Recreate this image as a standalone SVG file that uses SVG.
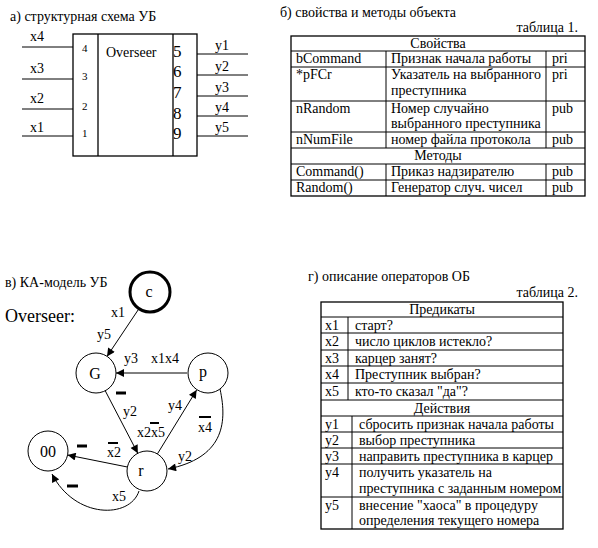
<svg xmlns="http://www.w3.org/2000/svg" width="598" height="548" viewBox="0 0 598 548" font-family="'Liberation Serif', Tinos, 'Times New Roman', 'DejaVu Serif', serif">
<style>
text{font-size:14px;fill:#000}
.ln{stroke:#000;stroke-width:1;fill:none}
.bx{stroke:#000;stroke-width:1.3;fill:none}
.c{text-anchor:middle}
.big{font-size:17px}
.pin{font-size:11px}
.nl{font-size:16px;text-anchor:middle}
.node{fill:#fff;stroke:#000;stroke-width:1}
.bar{stroke:#000;stroke-width:3}
.ob{stroke:#000;stroke-width:2}
.arr{stroke:#000;stroke-width:1;fill:none;marker-end:url(#ah)}
</style>
<defs>
<marker id="ah" viewBox="0 0 10 10" refX="10" refY="5" markerWidth="10" markerHeight="8" markerUnits="userSpaceOnUse" orient="auto">
<path d="M0,0 L10,5 L0,10 z" fill="#000"/>
</marker>
</defs>
<rect width="598" height="548" fill="#fff"/>

<!-- а) -->
<g id="block-a">
<text x="10" y="21">а) структурная схема УБ</text>
<rect x="73" y="34" width="124" height="122" class="bx"/>
<line x1="98" y1="34" x2="98" y2="156" class="bx"/>
<line x1="173" y1="34" x2="173" y2="156" class="bx"/>
<line x1="22" y1="47" x2="73" y2="47" class="ln"/>
<line x1="22" y1="79" x2="73" y2="79" class="ln"/>
<line x1="22" y1="109" x2="73" y2="109" class="ln"/>
<line x1="22" y1="136" x2="73" y2="136" class="ln"/>
<text x="30" y="41">x4</text>
<text x="30" y="73">x3</text>
<text x="30" y="103">x2</text>
<text x="30" y="132">x1</text>
<text x="82" y="52" class="pin">4</text>
<text x="82" y="80" class="pin">3</text>
<text x="82" y="110" class="pin">2</text>
<text x="82" y="137" class="pin">1</text>
<text x="106" y="57">Overseer</text>
<text x="173" y="57" class="big">5</text>
<text x="173" y="77" class="big">6</text>
<text x="173" y="98" class="big">7</text>
<text x="173" y="119" class="big">8</text>
<text x="173" y="139" class="big">9</text>
<line x1="197" y1="54" x2="248" y2="54" class="ln"/>
<line x1="197" y1="75" x2="248" y2="75" class="ln"/>
<line x1="197" y1="96" x2="248" y2="96" class="ln"/>
<line x1="197" y1="116" x2="248" y2="116" class="ln"/>
<line x1="197" y1="136" x2="248" y2="136" class="ln"/>
<text x="215" y="50">y1</text>
<text x="215" y="71">y2</text>
<text x="215" y="92">y3</text>
<text x="215" y="112">y4</text>
<text x="215" y="132">y5</text>
</g>

<!-- б) -->
<g id="table-1">
<text x="280" y="17">б) свойства и методы объекта</text>
<text x="578" y="32" style="text-anchor:end">таблица 1.</text>
<rect x="291" y="36" width="294" height="160" class="bx"/>
<g class="ln">
<line x1="291" y1="51" x2="585" y2="51"/>
<line x1="291" y1="67" x2="585" y2="67"/>
<line x1="291" y1="101" x2="585" y2="101"/>
<line x1="291" y1="132" x2="585" y2="132"/>
<line x1="291" y1="148" x2="585" y2="148"/>
<line x1="291" y1="164" x2="585" y2="164"/>
<line x1="291" y1="180" x2="585" y2="180"/>
<line x1="386" y1="51" x2="386" y2="148"/>
<line x1="546" y1="51" x2="546" y2="148"/>
<line x1="386" y1="164" x2="386" y2="196"/>
<line x1="546" y1="164" x2="546" y2="196"/>
</g>
<text x="438" y="48" class="c">Свойства</text>
<text x="296" y="63">bCommand</text><text x="391" y="63">Признак начала работы</text><text x="552" y="63">pri</text>
<text x="296" y="79">*pFCr</text><text x="391" y="79">Указатель на выбранного</text><text x="391" y="95">преступника</text><text x="552" y="79">pri</text>
<text x="296" y="113">nRandom</text><text x="391" y="113">Номер случайно</text><text x="391" y="128">выбранного преступника</text><text x="552" y="113">pub</text>
<text x="296" y="144">nNumFile</text><text x="391" y="144">номер файла протокола</text><text x="552" y="144">pub</text>
<text x="438" y="160" class="c">Методы</text>
<text x="296" y="176">Command()</text><text x="391" y="176">Приказ надзирателю</text><text x="552" y="176">pub</text>
<text x="296" y="192">Random()</text><text x="391" y="192">Генератор случ. чисел</text><text x="552" y="192">pub</text>
</g>

<!-- в) -->
<text x="5" y="287">в) КА-модель УБ</text>
<text x="5" y="322" style="font-size:18px">Overseer:</text>

<g id="connectors">
<line x1="139" y1="308.6" x2="107" y2="356.4" class="arr"/>
<line x1="187" y1="373" x2="116" y2="373" class="arr"/>
<line x1="105.2" y1="390.7" x2="137.8" y2="453.3" class="arr"/>
<line x1="157.4" y1="453.9" x2="196.6" y2="390.1" class="arr"/>
<path d="M220,389 C228,425 222,458 168,469" class="arr"/>
<line x1="127.4" y1="467" x2="67.6" y2="455" class="arr"/>
<path d="M139,491 C130,519 75,519 52,474" class="arr"/>
<text x="111" y="317">x1</text>
<text x="97" y="339">y5</text>
<text x="124" y="363">y3</text>
<text x="151" y="363">x1x4</text>
<line x1="116" y1="393" x2="126" y2="393" class="bar"/>
<text x="123" y="416">y2</text>
<text x="137" y="437">x2x5</text>
<line x1="150" y1="423" x2="159" y2="423" class="ob"/>
<text x="168" y="410">y4</text>
<text x="198" y="432">x4</text>
<line x1="199" y1="417" x2="211" y2="417" class="ob"/>
<text x="178" y="461">y2</text>
<text x="107" y="457">x2</text>
<line x1="108" y1="443" x2="118" y2="443" class="ob"/>
<line x1="77" y1="446" x2="87" y2="446" class="bar"/>
<line x1="67" y1="486" x2="78" y2="486" class="bar"/>
<text x="112" y="501">x5</text>
</g>

<g id="node-c"><circle cx="150" cy="292" r="20" class="node" style="stroke-width:3"/><text x="149" y="297" class="nl">c</text></g>
<g id="node-G"><circle cx="96" cy="373" r="20" class="node"/><text x="95" y="379" class="nl">G</text></g>
<g id="node-p"><circle cx="208" cy="373" r="20" class="node"/><text x="203" y="377" class="nl">p</text></g>
<g id="node-00"><circle cx="48" cy="451" r="20" class="node"/><text x="48" y="457" class="nl">00</text></g>
<g id="node-r"><circle cx="147" cy="471" r="20" class="node"/><text x="141" y="476" class="nl">r</text></g>

<!-- г) -->
<g id="table-2">
<text x="308" y="281">г) описание операторов ОБ</text>
<text x="578" y="297" style="text-anchor:end">таблица 2.</text>
<rect x="321" y="302" width="242" height="227" class="bx"/>
<g class="ln">
<line x1="321" y1="317" x2="563" y2="317"/>
<line x1="321" y1="333" x2="563" y2="333"/>
<line x1="321" y1="350" x2="563" y2="350"/>
<line x1="321" y1="366" x2="563" y2="366"/>
<line x1="321" y1="383" x2="563" y2="383"/>
<line x1="321" y1="400" x2="563" y2="400"/>
<line x1="321" y1="416" x2="563" y2="416"/>
<line x1="321" y1="432" x2="563" y2="432"/>
<line x1="321" y1="448" x2="563" y2="448"/>
<line x1="321" y1="464" x2="563" y2="464"/>
<line x1="321" y1="497" x2="563" y2="497"/>
<line x1="348" y1="317" x2="348" y2="400"/>
<line x1="352" y1="416" x2="352" y2="529"/>
</g>
<text x="442" y="314" class="c">Предикаты</text>
<text x="325" y="330">x1</text><text x="355" y="330">старт?</text>
<text x="325" y="346">x2</text><text x="355" y="346">число циклов истекло?</text>
<text x="325" y="363">x3</text><text x="355" y="363">карцер занят?</text>
<text x="325" y="379">x4</text><text x="355" y="379">Преступник выбран?</text>
<text x="325" y="396">x5</text><text x="355" y="396">кто-то сказал "да"?</text>
<text x="442" y="413" class="c">Действия</text>
<text x="325" y="429">y1</text><text x="359" y="429">сбросить признак начала работы</text>
<text x="325" y="445">y2</text><text x="359" y="445">выбор преступника</text>
<text x="325" y="461">y3</text><text x="359" y="461">направить преступника в карцер</text>
<text x="325" y="477">y4</text><text x="359" y="477">получить указатель на</text><text x="359" y="493">преступника с заданным номером</text>
<text x="325" y="510">y5</text><text x="359" y="510">внесение "хаоса" в процедуру</text><text x="359" y="525">определения текущего номера</text>
</g>
</svg>
